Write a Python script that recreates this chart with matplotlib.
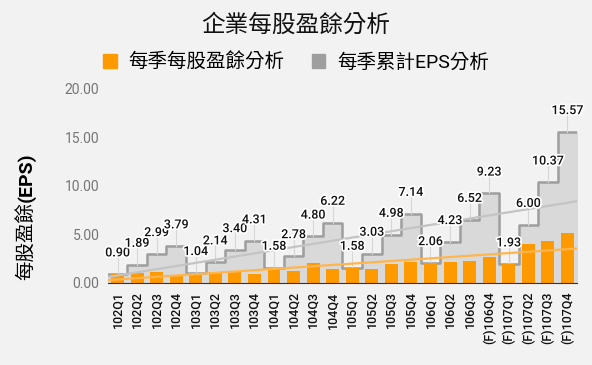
import numpy as np
import matplotlib.pyplot as plt
import matplotlib.patheffects as pe
from matplotlib.patches import Patch

plt.rcParams['font.family'] = ['Roboto', 'Noto Sans CJK TC', 'DejaVu Sans']

quarters = ["102Q1", "102Q2", "102Q3", "102Q4", "103Q1", "103Q2", "103Q3", "103Q4",
            "104Q1", "104Q2", "104Q3", "104Q4", "105Q1", "105Q2", "105Q3", "105Q4",
            "106Q1", "106Q2", "106Q3", "(F)106Q4", "(F)107Q1", "(F)107Q2", "(F)107Q3", "(F)107Q4"]
eps_quarter = [0.90, 0.99, 1.10, 0.80, 1.04, 1.10, 1.26, 0.91, 1.58, 1.20, 2.02, 1.42,
               1.58, 1.45, 1.95, 2.16, 2.06, 2.17, 2.29, 2.71, 1.93, 4.07, 4.37, 5.20]
eps_cum = [0.90, 1.89, 2.99, 3.79, 1.04, 2.14, 3.40, 4.31, 1.58, 2.78, 4.80, 6.22,
           1.58, 3.03, 4.98, 7.14, 2.06, 4.23, 6.52, 9.23, 1.93, 6.00, 10.37, 15.57]
yticks = [0, 5, 10, 15, 20]

bg = '#f2f2f2'
orange = '#ff9900'
grey = '#9e9e9e'

fig = plt.figure(figsize=(5.92, 3.65), dpi=100, facecolor=bg)
ax = fig.add_axes([0.182, 0.2247, 0.793, 0.5315], facecolor=bg)

x = np.arange(len(quarters))
n = len(x)

# cumulative step area (extended to the edges)
xs = np.concatenate([[-0.5], x, [n - 0.5]])
ys = np.concatenate([[eps_cum[0]], eps_cum, [eps_cum[-1]]])
ax.fill_between(xs, ys, step='mid', color='#d9d9d9', zorder=1)
ax.step(xs, ys, where='mid', color=grey, lw=1.8, zorder=2)

ax.bar(x, eps_quarter, width=0.66, color=orange, zorder=3)

# trend lines
xt = np.array([-0.5, n - 0.5])
k, b = np.polyfit(x, eps_cum, 1)
ax.plot(xt, k * xt + b, color='#c4c4c4', lw=1.6, zorder=4)
k2, b2 = np.polyfit(x, eps_quarter, 1)
ax.plot(xt, k2 * xt + b2, color='#ffb54d', lw=1.6, zorder=4)

# labels with leader lines
for xi, v in zip(x, eps_cum):
    ax.plot([xi, xi], [v, v + 1.9], color='#d6d6d6', lw=0.8, zorder=2)
    ax.text(xi, v + 2.2, f"{v:.2f}", ha='center', va='center', fontsize=9,
            color='#111111', fontweight='medium', zorder=5,
            path_effects=[pe.withStroke(linewidth=2.5, foreground='white')])

ax.set_xlim(-0.5, n - 0.5)
ax.set_ylim(0, 20)
ax.set_yticks(yticks)
ax.set_yticklabels([f"{t:.2f}" for t in yticks], color='#757575', fontsize=10)
ax.set_xticks(x)
ax.set_xticklabels(quarters, rotation=90, fontsize=9, color='#111111', fontweight='medium')
ax.tick_params(axis='both', length=0, pad=6)
for s in ['top', 'right', 'left']:
    ax.spines[s].set_visible(False)
ax.spines['bottom'].set_color('#333333')
ax.spines['bottom'].set_zorder(6)

# y label: CJK normal, (EPS) bold
fig.text(0.045, 0.447, "每股盈餘", rotation=90, ha='center', va='top', fontsize=14, color='black')
fig.text(0.045, 0.447, "(EPS)", rotation=90, ha='center', va='bottom', fontsize=14,
         fontweight='bold', color='black')

fig.text(0.5, 0.93, "企業每股盈餘分析", ha='center', va='center', fontsize=17, color='#111111')
handles = [Patch(color=orange), Patch(color=grey)]
fig.legend(handles, ["每季每股盈餘分析", "每季累計EPS分析"], loc='center', bbox_to_anchor=(0.5, 0.83),
           ncol=2, frameon=False, fontsize=14, handlelength=0.7, handleheight=0.7,
           handletextpad=0.6, columnspacing=1.4)

fig.savefig("out.png", dpi=100, facecolor=bg)
